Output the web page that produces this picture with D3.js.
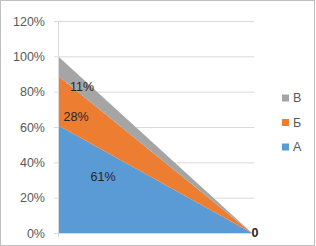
<!DOCTYPE html>
<html>
<head>
<meta charset="utf-8">
<script src="https://cdn.jsdelivr.net/npm/d3@7"></script>
<style>
  body { margin: 0; background: #fff; }
  text { font-family: "Liberation Sans", Arial, sans-serif; }
</style>
</head>
<body>
<div class="chart"></div>
<script>
// Chart data
var categories = [1, 2];
var seriesNames = ["А", "Б", "В"];
var seriesA = [0.61, 0];
var seriesB = [0.28, 0];
var seriesV = [0.11, 0];
var yTicks = [0, 0.2, 0.4, 0.6, 0.8, 1.0, 1.2];
var colors = ["#5b9bd5", "#ed7d31", "#a5a5a5"];

// Create svg canvas and margins
var svgWidth = 316;
var svgHeight = 246;

var margin = { top: 21, bottom: 13, left: 58, right: 62 };
var width = svgWidth - margin.left - margin.right;
var height = svgHeight - margin.top - margin.bottom;

var svg = d3.select(".chart")
            .append("svg")
            .attr("width", svgWidth)
            .attr("height", svgHeight);

// outer border
svg.append("rect")
   .attr("x", 0.5).attr("y", 0.5)
   .attr("width", svgWidth - 2).attr("height", svgHeight - 1)
   .attr("fill", "#fff")
   .attr("stroke", "#bfbfbf");

var chartGroup = svg.append("g")
                    .attr("transform", `translate(${margin.left}, ${margin.top})`);

var table = categories.map(function(c, i) {
    return { cat: c, "А": seriesA[i], "Б": seriesB[i], "В": seriesV[i] };
});

var stack = d3.stack().keys(seriesNames);
var stacked = stack(table);

var xScale = d3.scalePoint()
               .domain(categories)
               .range([0, width - 2]);
var yScale = d3.scaleLinear()
               .domain([0, 1.2])
               .range([height, 0]);

// gridlines
chartGroup.append("g")
          .selectAll("line")
          .data(yTicks.slice(1))
          .enter()
          .append("line")
          .attr("x1", 0).attr("x2", width)
          .attr("y1", d => yScale(d) + 0.5).attr("y2", d => yScale(d) + 0.5)
          .attr("stroke", "#d9d9d9");

// areas
var area = d3.area()
             .x(d => xScale(d.data.cat))
             .y0(d => yScale(d[0]))
             .y1(d => yScale(d[1]));

chartGroup.selectAll(".layer")
          .data(stacked)
          .enter()
          .append("path")
          .attr("d", area)
          .attr("fill", (d, i) => colors[i]);

// axes
var leftAxis = d3.axisLeft(yScale)
                 .tickValues(yTicks)
                 .tickFormat(d3.format(".0%"))
                 .tickSize(4)
                 .tickPadding(9);
var gy = chartGroup.append("g").call(leftAxis);
gy.select(".domain").attr("stroke", "#d9d9d9").attr("d", `M0.5,${height}V0`);
gy.selectAll(".tick line").attr("stroke", "#d9d9d9");
gy.selectAll("text").attr("fill", "#595959").style("font-size", "12.5px");

var gx = chartGroup.append("g").attr("transform", `translate(0, ${height})`);
gx.append("line").attr("x1", 0).attr("x2", width).attr("y1", 0.5).attr("y2", 0.5).attr("stroke", "#d9d9d9");
gx.append("line").attr("x1", 0.5).attr("x2", 0.5).attr("y1", 0).attr("y2", 4).attr("stroke", "#d9d9d9");

// data labels for first category
var labelPos = [
    { x: 45, y: 0.317 },
    { x: 18, y: 0.657 },
    { x: 24, y: 0.826 }
];
chartGroup.selectAll(".lbl")
          .data(stacked)
          .enter()
          .append("text")
          .attr("x", (d, i) => labelPos[i].x)
          .attr("y", (d, i) => yScale(labelPos[i].y))
          .attr("dy", "0.35em")
          .attr("text-anchor", "middle")
          .attr("fill", "#262626")
          .style("font-size", "12.5px")
          .text(d => d3.format(".0%")(d[0][1] - d[0][0]));

// "0" labels at the last category
chartGroup.append("text")
          .attr("x", xScale(2) + 3)
          .attr("y", yScale(0))
          .attr("dy", "0.35em")
          .attr("text-anchor", "middle")
          .attr("fill", "#262626")
          .style("font-size", "12.5px")
          .style("font-weight", "bold")
          .text(seriesA[1]);

// legend
var legendItems = seriesNames.map((n, i) => ({ name: n, color: colors[i] })).reverse();
var legend = svg.append("g").attr("transform", "translate(282, 98)");
var li = legend.selectAll("g")
               .data(legendItems)
               .enter()
               .append("g")
               .attr("transform", (d, i) => `translate(0, ${i * 24.5})`);
li.append("rect")
  .attr("x", 0).attr("y", -3.5)
  .attr("width", 7).attr("height", 7)
  .attr("fill", d => d.color);
li.append("text")
  .attr("x", 11).attr("y", 0)
  .attr("dy", "0.35em")
  .attr("fill", "#595959")
  .style("font-size", "12.5px")
  .text(d => d.name);
</script>
</body>
</html>
